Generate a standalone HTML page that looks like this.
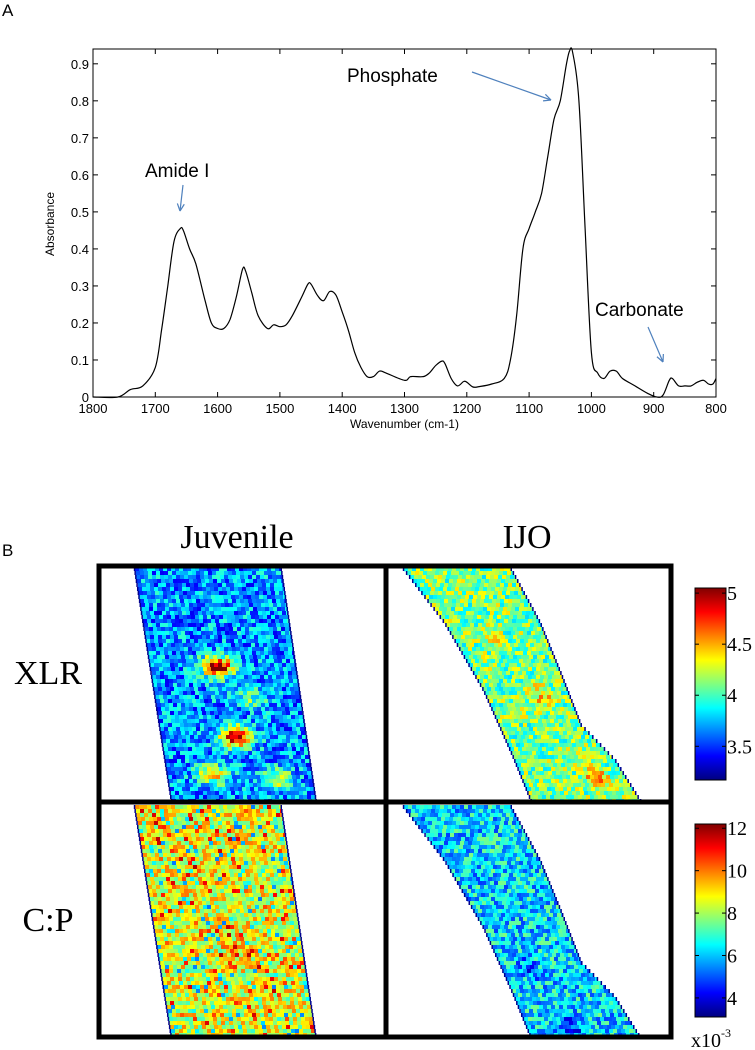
<!DOCTYPE html>
<html><head><meta charset="utf-8"><style>
html,body{margin:0;padding:0;background:#fff;width:755px;height:1050px;overflow:hidden}
svg text{font-family:"Liberation Sans",sans-serif}
.tm{font-family:"Liberation Serif",serif}
</style></head><body>
<svg id="svg" width="755" height="1050" viewBox="0 0 755 1050" xmlns="http://www.w3.org/2000/svg">
<text x="2" y="16" font-size="17">A</text>
<g id="chartA"></g>
<text x="2" y="556" font-size="17">B</text>
<text class="tm" x="237" y="548" font-size="34" text-anchor="middle">Juvenile</text>
<text class="tm" x="527" y="548" font-size="34" text-anchor="middle">IJO</text>
<text class="tm" x="48" y="684" font-size="34" text-anchor="middle">XLR</text>
<text class="tm" x="48" y="931" font-size="34" text-anchor="middle">C:P</text>
<g id="maps"></g>
<g id="cbars"></g>
</svg>
<script>
// ---- Spectrum data ----
const wavenumbers=[1800,1760,1740,1720,1700,1690,1680,1670,1660,1655,1645,1635,1620,1610,1600,1590,1580,1570,1560,1555,1545,1535,1520,1510,1500,1490,1480,1465,1455,1450,1440,1430,1420,1410,1400,1390,1380,1370,1360,1350,1340,1330,1300,1290,1270,1260,1250,1240,1235,1225,1215,1205,1200,1190,1180,1160,1140,1130,1120,1110,1100,1090,1080,1070,1060,1050,1040,1035,1030,1020,1010,1000,990,980,970,960,950,930,910,895,885,875,870,860,850,840,830,820,812,805,800];
const absorbance=[0,0,0.02,0.03,0.08,0.18,0.3,0.42,0.455,0.45,0.4,0.36,0.26,0.2,0.185,0.185,0.21,0.27,0.345,0.34,0.28,0.22,0.185,0.195,0.19,0.195,0.22,0.27,0.305,0.305,0.275,0.26,0.285,0.275,0.23,0.18,0.12,0.08,0.055,0.055,0.07,0.065,0.045,0.055,0.055,0.065,0.085,0.097,0.09,0.05,0.03,0.042,0.04,0.027,0.028,0.035,0.05,0.1,0.22,0.4,0.455,0.5,0.55,0.65,0.75,0.8,0.9,0.935,0.93,0.8,0.45,0.12,0.065,0.05,0.07,0.07,0.05,0.03,0.01,0,0.005,0.045,0.05,0.03,0.03,0.03,0.04,0.045,0.035,0.035,0.05];
const xTicks=[1800,1700,1600,1500,1400,1300,1200,1100,1000,900,800];
const yTicks=[0,0.1,0.2,0.3,0.4,0.5,0.6,0.7,0.8,0.9];
const xl=93,xr=716,yb=397,yt=49,ymax=0.94;
const sx=v=>xl+(1800-v)/1000*(xr-xl);
const sy=v=>yb-v/ymax*(yb-yt);
const NS="http://www.w3.org/2000/svg";
function mk(tag,attrs,parent){const e=document.createElementNS(NS,tag);for(const k in attrs)e.setAttribute(k,attrs[k]);parent.appendChild(e);return e;}
const A=document.getElementById('chartA');
let frame=mk('rect',{x:xl,y:yt,width:xr-xl,height:yb-yt,fill:'none',stroke:'#000','stroke-width':1},A);


xTicks.forEach(t=>{
  const x=sx(t);
  mk('line',{x1:x,x2:x,y1:yb,y2:yb-5,stroke:'#000'},A);
  mk('line',{x1:x,x2:x,y1:yt,y2:yt+5,stroke:'#000'},A);
  const tx=mk('text',{x:x,y:yb+16,'font-size':13,'text-anchor':'middle'},A);
  tx.textContent=t;
  
  
});
yTicks.forEach(t=>{
  const y=sy(t);
  mk('line',{x1:xl,x2:xl+5,y1:y,y2:y,stroke:'#000'},A);
  mk('line',{x1:xr,x2:xr-5,y1:y,y2:y,stroke:'#000'},A);
  const tx=mk('text',{x:xl-4,y:y+5,'font-size':13,'text-anchor':'end'},A);
  tx.textContent=t===0?'0':t.toFixed(1);
  
  
});
let xt=mk('text',{x:(xl+xr)/2,y:428,'font-size':12,'text-anchor':'middle'},A);
xt.textContent='Wavenumber  (cm-1)';


let yt2=mk('text',{x:0,y:0,'font-size':12,'text-anchor':'middle',transform:'translate(54,224) rotate(-90)'},A);
yt2.textContent='Absorbance';


// smooth path (Catmull-Rom)
const P=wavenumbers.map((w,i)=>[sx(w),sy(absorbance[i])]);
let d='M'+P[0][0].toFixed(1)+','+P[0][1].toFixed(1);
for(let i=0;i<P.length-1;i++){
  const p0=P[Math.max(0,i-1)],p1=P[i],p2=P[i+1],p3=P[Math.min(P.length-1,i+2)];
  const c1=[p1[0]+(p2[0]-p0[0])/6,p1[1]+(p2[1]-p0[1])/6],c2=[p2[0]-(p3[0]-p1[0])/6,p2[1]-(p3[1]-p1[1])/6];
  d+=`C${c1[0].toFixed(1)},${c1[1].toFixed(1)} ${c2[0].toFixed(1)},${c2[1].toFixed(1)} ${p2[0].toFixed(1)},${p2[1].toFixed(1)}`;
}
let ln=mk('path',{d:d,fill:'none',stroke:'#000','stroke-width':1.2,'stroke-linejoin':'round'},A);


function ann(txt,x,y,x1,y1,x2,y2,name){
  const t=mk('text',{x:x,y:y,'font-size':19},A);t.textContent=txt;
  
  
  const g=mk('g',{stroke:'#4f81bd','stroke-width':1.2,fill:'none'},A);
  
  
  mk('line',{x1:x1,y1:y1,x2:x2,y2:y2},g);
  const ang=Math.atan2(y2-y1,x2-x1),L=8;
  [0.45,-0.45].forEach(o=>mk('line',{x1:x2,y1:y2,x2:x2-L*Math.cos(ang+o),y2:y2-L*Math.sin(ang+o)},g));
}
ann('Amide I',145,177,183,185,180,211,'amide-i');
ann('Phosphate',347,82,472,72,551,100,'phosphate');
ann('Carbonate',595,316,648,327,663,362,'carbonate');

// ---- Heatmaps ----
function jet(t){t=Math.max(0,Math.min(1,t));const f=c=>Math.round(255*Math.max(0,Math.min(1,1.5-Math.abs(4*t-c))));return `rgb(${f(3)},${f(2)},${f(1)})`;}
const panelTop=[567,805],panelBot=[800,1037];
const juvLeft=[[0,135],[1,172]], juvRight=[[0,281],[1,316]];
const ijoLeft=[[0,404],[0.23,445],[0.52,484],[0.8,513],[1,532]];
const ijoRight=[[0,511],[0.23,540],[0.45,561],[0.67,581],[0.82,615],[1,641]];
const baseLevel=[0.27,0.5,0.6,0.34];
const hotspots=[[[0.45,0.42,0.75],[0.5,0.72,0.7],[0.3,0.88,0.4],[0.65,0.55,0.2],[0.75,0.9,0.3]],[[0.65,0.55,0.2],[0.7,0.9,0.25],[0.4,0.3,0.08]],[[0.4,0.3,0.08],[0.5,0.6,0.05]],[[0.3,0.7,-0.15],[0.4,0.95,-0.2],[0.7,0.2,0.05]]];
function interp(pts,f){for(let i=1;i<pts.length;i++){if(f<=pts[i][0]){const a=pts[i-1],b=pts[i];return a[1]+(b[1]-a[1])*(f-a[0])/(b[0]-a[0]);}}return pts[pts.length-1][1];}
function hash(a,b,c){let h=(a*374761393+b*668265263+c*2147483647)|0;h=(h^(h>>>13))*1274126177|0;return ((h^(h>>>16))>>>0)/4294967296;}
const M=document.getElementById('maps');
const cell=4;
const mapNames=['xlr-juvenile-map','xlr-ijo-map','cp-juvenile-map','cp-ijo-map'];
for(let p=0;p<4;p++){
  const row=p<2?0:1, isIjo=p%2===1;
  const L=isIjo?ijoLeft:juvLeft,R=isIjo?ijoRight:juvRight;
  const g=mk('g',{},M);
  
  
  const top=panelTop[row],bot=panelBot[row],H=bot-top;
  let out=[];
  for(let y=top;y<bot;y+=cell){
    const f=(y-top)/H,xa=interp(L,f),xb=interp(R,f);
    for(let x=Math.round(xa);x<xb;x+=cell){
      let v=baseLevel[p]+(hash(x,y,p)-0.5)*0.32;
      const u=(x-xa)/(xb-xa);
      hotspots[p].forEach(h=>{const dd=Math.hypot(u-h[0],(f-h[1])*2.5);v+=h[2]*Math.exp(-dd*dd/0.012);});
      if(p===2&&hash(y,x,9)>0.88)v+=0.18;
      if(p===2&&hash(y,x,7)>0.85)v-=0.2;
      out.push(`<rect x="${x}" y="${y}" width="${Math.min(cell,xb-x)+0.3}" height="${cell+0.3}" fill="${jet(v)}"/>`);
    }
    out.push(`<rect x="${xa-1.2}" y="${y}" width="1.5" height="${cell}" fill="#00008f"/>`);
    out.push(`<rect x="${xb-0.5}" y="${y}" width="1.5" height="${cell}" fill="#00008f"/>`);
  }
  g.innerHTML=out.join('');
}
const G=mk('g',{stroke:'#000','stroke-width':5,fill:'none'},M);


mk('rect',{x:99,y:566,width:572,height:471},G);
mk('line',{x1:386,x2:386,y1:566,y2:1037},G);
mk('line',{x1:99,x2:671,y1:802,y2:802},G);

// ---- Colorbars ----
const cb1Ticks=[5,4.5,4,3.5], cb1Range=[3.17,5.05];
const cb2Ticks=[12,10,8,6,4], cb2Range=[3.1,12.2];
const C=document.getElementById('cbars');
let defs=mk('defs',{},C);
let lg=mk('linearGradient',{id:'jetg',x1:0,y1:1,x2:0,y2:0},defs);
for(let i=0;i<=8;i++)mk('stop',{offset:i/8,'stop-color':jet(i/8)},lg);
function cbar(y0,y1,range,ticks,name){
  const r=mk('rect',{x:695,y:y0,width:31,height:y1-y0,fill:'url(#jetg)',stroke:'#000','stroke-width':1},C);
  
  
  ticks.forEach(t=>{
    const y=y1-(t-range[0])/(range[1]-range[0])*(y1-y0);
    mk('line',{x1:726,x2:722,y1:y,y2:y,stroke:'#000'},C);
    mk('line',{x1:695,x2:699,y1:y,y2:y,stroke:'#000'},C);
    const tx=mk('text',{x:727,y:y+7,'font-size':20,class:'tm'},C);
    tx.textContent=t;
    
    
  });
}
cbar(588,780,cb1Range,cb1Ticks,'xlr-colorbar');
cbar(824,1017,cb2Range,cb2Ticks,'cp-colorbar');
let ex=mk('text',{x:691,y:1047,'font-size':20,class:'tm'},C);
ex.innerHTML='x10<tspan font-size="12" dy="-10">-3</tspan>';


</script>
</body></html>
